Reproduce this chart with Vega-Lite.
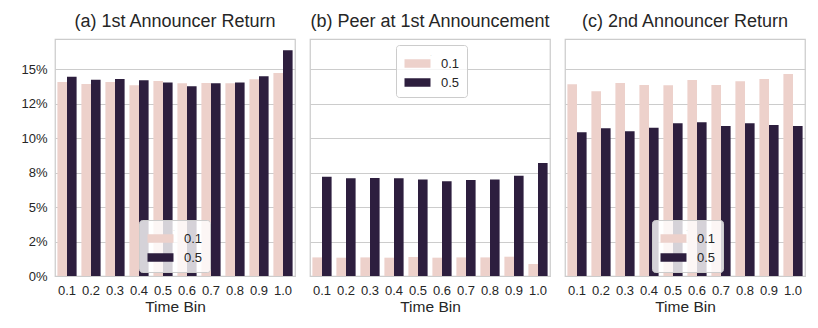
{
  "$schema": "https://vega.github.io/schema/vega-lite/v6.json",
  "autosize": {"type": "none"},
  "padding": {"left": 55, "top": 39, "right": 763, "bottom": 289},
  "background": "white",
  "bounds": "flush",
  "spacing": 15,
  "data": {"values": [
    {"panel": "a", "bin": "0.1", "thr": "0.1", "v": 14.08}, {"panel": "a", "bin": "0.1", "thr": "0.5", "v": 14.46},
    {"panel": "a", "bin": "0.2", "thr": "0.1", "v": 13.93}, {"panel": "a", "bin": "0.2", "thr": "0.5", "v": 14.25},
    {"panel": "a", "bin": "0.3", "thr": "0.1", "v": 14.08}, {"panel": "a", "bin": "0.3", "thr": "0.5", "v": 14.30},
    {"panel": "a", "bin": "0.4", "thr": "0.1", "v": 13.84}, {"panel": "a", "bin": "0.4", "thr": "0.5", "v": 14.20},
    {"panel": "a", "bin": "0.5", "thr": "0.1", "v": 14.15}, {"panel": "a", "bin": "0.5", "thr": "0.5", "v": 14.05},
    {"panel": "a", "bin": "0.6", "thr": "0.1", "v": 13.98}, {"panel": "a", "bin": "0.6", "thr": "0.5", "v": 13.77},
    {"panel": "a", "bin": "0.7", "thr": "0.1", "v": 14.00}, {"panel": "a", "bin": "0.7", "thr": "0.5", "v": 13.98},
    {"panel": "a", "bin": "0.8", "thr": "0.1", "v": 13.98}, {"panel": "a", "bin": "0.8", "thr": "0.5", "v": 14.05},
    {"panel": "a", "bin": "0.9", "thr": "0.1", "v": 14.27}, {"panel": "a", "bin": "0.9", "thr": "0.5", "v": 14.49},
    {"panel": "a", "bin": "1.0", "thr": "0.1", "v": 14.73}, {"panel": "a", "bin": "1.0", "thr": "0.5", "v": 16.38},
    {"panel": "b", "bin": "0.1", "thr": "0.1", "v": 1.35}, {"panel": "b", "bin": "0.1", "thr": "0.5", "v": 7.21},
    {"panel": "b", "bin": "0.2", "thr": "0.1", "v": 1.33}, {"panel": "b", "bin": "0.2", "thr": "0.5", "v": 7.09},
    {"panel": "b", "bin": "0.3", "thr": "0.1", "v": 1.35}, {"panel": "b", "bin": "0.3", "thr": "0.5", "v": 7.11},
    {"panel": "b", "bin": "0.4", "thr": "0.1", "v": 1.33}, {"panel": "b", "bin": "0.4", "thr": "0.5", "v": 7.09},
    {"panel": "b", "bin": "0.5", "thr": "0.1", "v": 1.38}, {"panel": "b", "bin": "0.5", "thr": "0.5", "v": 7.01},
    {"panel": "b", "bin": "0.6", "thr": "0.1", "v": 1.33}, {"panel": "b", "bin": "0.6", "thr": "0.5", "v": 6.87},
    {"panel": "b", "bin": "0.7", "thr": "0.1", "v": 1.35}, {"panel": "b", "bin": "0.7", "thr": "0.5", "v": 6.97},
    {"panel": "b", "bin": "0.8", "thr": "0.1", "v": 1.35}, {"panel": "b", "bin": "0.8", "thr": "0.5", "v": 7.01},
    {"panel": "b", "bin": "0.9", "thr": "0.1", "v": 1.40}, {"panel": "b", "bin": "0.9", "thr": "0.5", "v": 7.28},
    {"panel": "b", "bin": "1.0", "thr": "0.1", "v": 0.87}, {"panel": "b", "bin": "1.0", "thr": "0.5", "v": 8.20},
    {"panel": "c", "bin": "0.1", "thr": "0.1", "v": 13.91}, {"panel": "c", "bin": "0.1", "thr": "0.5", "v": 10.43},
    {"panel": "c", "bin": "0.2", "thr": "0.1", "v": 13.40}, {"panel": "c", "bin": "0.2", "thr": "0.5", "v": 10.72},
    {"panel": "c", "bin": "0.3", "thr": "0.1", "v": 14.00}, {"panel": "c", "bin": "0.3", "thr": "0.5", "v": 10.50},
    {"panel": "c", "bin": "0.4", "thr": "0.1", "v": 13.86}, {"panel": "c", "bin": "0.4", "thr": "0.5", "v": 10.76},
    {"panel": "c", "bin": "0.5", "thr": "0.1", "v": 13.84}, {"panel": "c", "bin": "0.5", "thr": "0.5", "v": 11.08},
    {"panel": "c", "bin": "0.6", "thr": "0.1", "v": 14.22}, {"panel": "c", "bin": "0.6", "thr": "0.5", "v": 11.15},
    {"panel": "c", "bin": "0.7", "thr": "0.1", "v": 13.86}, {"panel": "c", "bin": "0.7", "thr": "0.5", "v": 10.89},
    {"panel": "c", "bin": "0.8", "thr": "0.1", "v": 14.13}, {"panel": "c", "bin": "0.8", "thr": "0.5", "v": 11.08},
    {"panel": "c", "bin": "0.9", "thr": "0.1", "v": 14.30}, {"panel": "c", "bin": "0.9", "thr": "0.5", "v": 10.96},
    {"panel": "c", "bin": "1.0", "thr": "0.1", "v": 14.66}, {"panel": "c", "bin": "1.0", "thr": "0.5", "v": 10.89}
  ]},
  "resolve": {"legend": {"color": "independent"}},
  "config": {
    "font": "Liberation Sans",
    "view": {"stroke": "#cccccc", "strokeWidth": 1.25},
    "title": {"fontSize": 18, "fontWeight": "normal", "color": "#262626", "anchor": "middle", "frame": "group", "baseline": "alphabetic", "offset": 8},
    "axis": {"labelFontSize": 13, "labelColor": "#262626", "titleFontSize": 15.5, "titleFontWeight": "normal", "titleColor": "#262626", "ticks": false, "tickSize": 0, "domain": false, "gridColor": "#cccccc", "gridWidth": 1},
    "legend": {
      "orient": "none", "titleFontSize": 5, "titlePadding": 0, "titleColor": "#bbbbbb", "titleAnchor": "middle", "titleFontWeight": "normal",
      "symbolType": "M-2.6,-0.85H2.6V0.85H-2.6Z", "symbolSize": 100, "symbolOffset": 8, "symbolStrokeWidth": 0, "symbolOpacity": 1,
      "labelOffset": 17, "labelFontSize": 13, "labelColor": "#262626", "padding": 7, "rowPadding": 5,
      "fillColor": "rgba(255,255,255,0.8)", "strokeColor": "#cccccc", "cornerRadius": 3
    }
  },
  "hconcat": [
    {
      "width": 240, "height": 237,
      "title": "(a) 1st Announcer Return",
      "transform": [{"filter": "datum.panel == 'a'"}],
      "mark": {"type": "bar"},
      "encoding": {
        "x": {"field": "bin", "type": "nominal", "title": "Time Bin", "scale": {"paddingInner": 0.2, "paddingOuter": 0.1}, "axis": {"labelAngle": 0, "labelPadding": 8, "titlePadding": 2}},
        "xOffset": {"field": "thr", "type": "nominal", "sort": ["0.1", "0.5"]},
        "y": {"field": "v", "type": "quantitative", "title": null, "scale": {"domain": [0, 17.2], "nice": false}, "axis": {"values": [0, 2.5, 5, 7.5, 10, 12.5, 15], "labelPadding": 8, "labelExpr": "datum.value == 2.5 ? '2%' : datum.value == 7.5 ? '8%' : datum.value == 12.5 ? '12%' : format(datum.value, 'd') + '%'"}},
        "color": {"field": "thr", "type": "nominal", "scale": {"domain": ["0.1", "0.5"], "range": ["#edd1cb", "#2d1e3e"]}, "legend": {"title": ".", "legendX": 84, "legendY": 181}}
      }
    },
    {
      "width": 240, "height": 237,
      "title": "(b) Peer at 1st Announcement",
      "transform": [{"filter": "datum.panel == 'b'"}],
      "mark": {"type": "bar"},
      "encoding": {
        "x": {"field": "bin", "type": "nominal", "title": "Time Bin", "scale": {"paddingInner": 0.2, "paddingOuter": 0.1}, "axis": {"labelAngle": 0, "labelPadding": 8, "titlePadding": 2}},
        "xOffset": {"field": "thr", "type": "nominal", "sort": ["0.1", "0.5"]},
        "y": {"field": "v", "type": "quantitative", "title": null, "scale": {"domain": [0, 17.2], "nice": false}, "axis": {"values": [0, 2.5, 5, 7.5, 10, 12.5, 15], "labels": false}},
        "color": {"field": "thr", "type": "nominal", "scale": {"domain": ["0.1", "0.5"], "range": ["#edd1cb", "#2d1e3e"]}, "legend": {"title": ".", "legendX": 86, "legendY": 6}}
      }
    },
    {
      "width": 240, "height": 237,
      "title": "(c) 2nd Announcer Return",
      "transform": [{"filter": "datum.panel == 'c'"}],
      "mark": {"type": "bar"},
      "encoding": {
        "x": {"field": "bin", "type": "nominal", "title": "Time Bin", "scale": {"paddingInner": 0.2, "paddingOuter": 0.1}, "axis": {"labelAngle": 0, "labelPadding": 8, "titlePadding": 2}},
        "xOffset": {"field": "thr", "type": "nominal", "sort": ["0.1", "0.5"]},
        "y": {"field": "v", "type": "quantitative", "title": null, "scale": {"domain": [0, 17.2], "nice": false}, "axis": {"values": [0, 2.5, 5, 7.5, 10, 12.5, 15], "labels": false}},
        "color": {"field": "thr", "type": "nominal", "scale": {"domain": ["0.1", "0.5"], "range": ["#edd1cb", "#2d1e3e"]}, "legend": {"title": ".", "legendX": 87, "legendY": 181}}
      }
    }
  ]
}
